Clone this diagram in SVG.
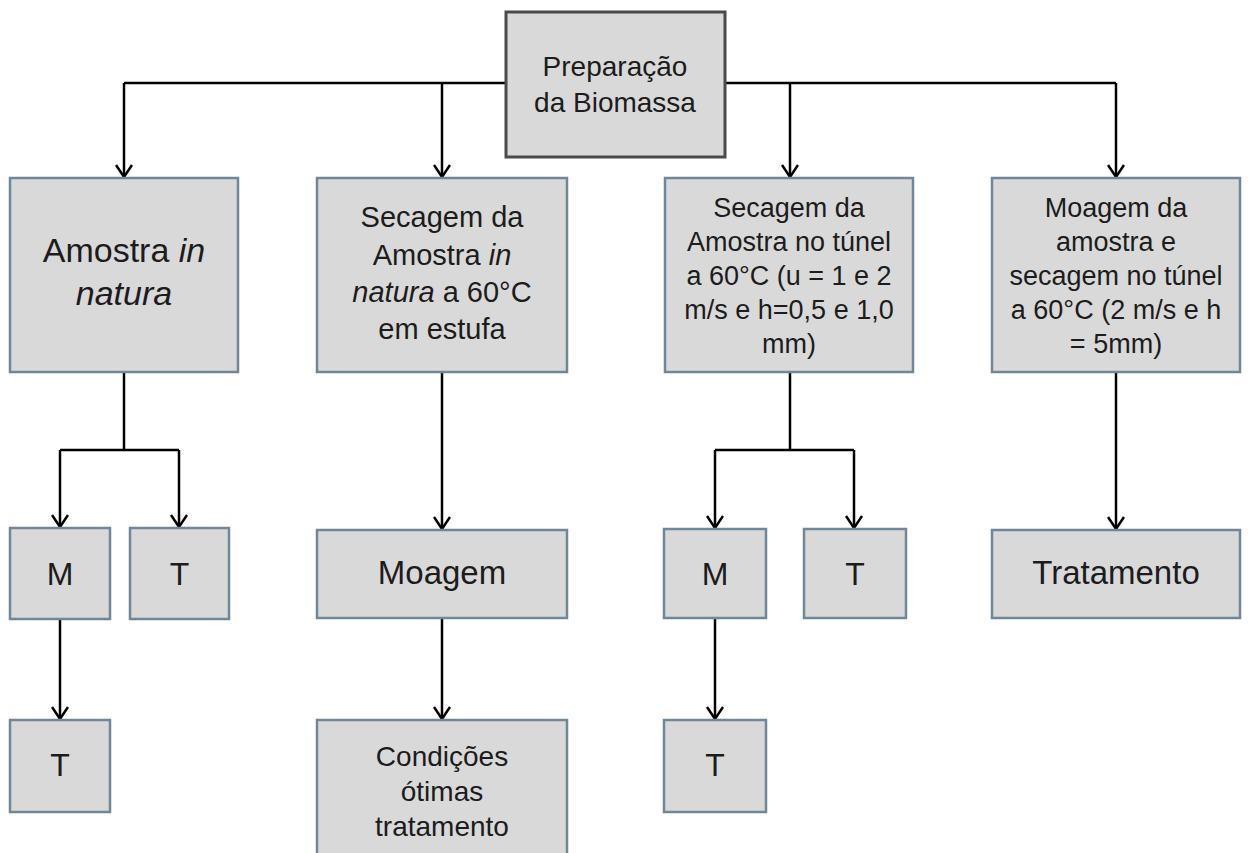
<svg xmlns="http://www.w3.org/2000/svg" width="1248" height="853" viewBox="0 0 1248 853">
<style>
.box{fill:#d9d9d9;stroke:#6f8899;stroke-width:2.5}
.top{fill:#d9d9d9;stroke:#4a4a4a;stroke-width:3}
.t{font-family:"Liberation Sans",Arial,sans-serif;fill:#1c1c1c;text-anchor:middle}
.i{font-style:italic}
.c{fill:none;stroke:#000;stroke-width:2.5}
</style>
<defs>
<marker id="ah" viewBox="0 0 14 18" refX="13" refY="9" markerWidth="14" markerHeight="18" markerUnits="userSpaceOnUse" orient="auto">
<path d="M1,1 L13,9 L1,17" fill="none" stroke="#000" stroke-width="2.5"/>
</marker>
</defs>
<rect width="1248" height="853" fill="#fff"/>
<g id="connectors">
<path class="c" d="M506,83 H124"/>
<path class="c" d="M725,83 H1116"/>
<path class="c" d="M124,83 V177" marker-end="url(#ah)"/>
<path class="c" d="M442,83 V177" marker-end="url(#ah)"/>
<path class="c" d="M790,83 V177" marker-end="url(#ah)"/>
<path class="c" d="M1116,83 V177" marker-end="url(#ah)"/>
<path class="c" d="M124,372 V450"/>
<path class="c" d="M60,450 H179"/>
<path class="c" d="M60,450 V527" marker-end="url(#ah)"/>
<path class="c" d="M179,450 V527" marker-end="url(#ah)"/>
<path class="c" d="M60,619 V719" marker-end="url(#ah)"/>
<path class="c" d="M442,372 V529" marker-end="url(#ah)"/>
<path class="c" d="M442,618 V719" marker-end="url(#ah)"/>
<path class="c" d="M790,372 V450"/>
<path class="c" d="M715,450 H854"/>
<path class="c" d="M715,450 V528" marker-end="url(#ah)"/>
<path class="c" d="M854,450 V528" marker-end="url(#ah)"/>
<path class="c" d="M715,618 V719" marker-end="url(#ah)"/>
<path class="c" d="M1116,372 V529" marker-end="url(#ah)"/>
</g>
<g id="preparacao">
<rect class="top" x="506" y="12" width="219" height="145"/>
<text class="t" font-size="28"><tspan x="615" y="76">Preparação</tspan><tspan x="615" y="112">da Biomassa</tspan></text>
</g>
<g id="amostra-in-natura">
<rect class="box" x="10" y="178" width="228" height="194"/>
<text class="t" font-size="34"><tspan x="124" y="262">Amostra <tspan class="i">in</tspan></tspan><tspan x="124" y="305" class="i">natura</tspan></text>
</g>
<g id="secagem-estufa">
<rect class="box" x="317" y="178" width="250" height="194"/>
<text class="t" font-size="29"><tspan x="442" y="227">Secagem da</tspan><tspan x="442" y="265">Amostra <tspan class="i">in</tspan></tspan><tspan x="442" y="302"><tspan class="i">natura</tspan> a 60°C</tspan><tspan x="442" y="339">em estufa</tspan></text>
</g>
<g id="secagem-tunel">
<rect class="box" x="665" y="178" width="248" height="194"/>
<text class="t" font-size="27"><tspan x="789" y="217">Secagem da</tspan><tspan x="789" y="251">Amostra no túnel</tspan><tspan x="789" y="285">a 60°C (u = 1 e 2</tspan><tspan x="789" y="319">m/s e h=0,5 e 1,0</tspan><tspan x="789" y="353">mm)</tspan></text>
</g>
<g id="moagem-secagem">
<rect class="box" x="992" y="178" width="248" height="194"/>
<text class="t" font-size="27"><tspan x="1116" y="217">Moagem da</tspan><tspan x="1116" y="251">amostra e</tspan><tspan x="1116" y="285">secagem no túnel</tspan><tspan x="1116" y="319">a 60°C (2 m/s e h</tspan><tspan x="1116" y="353">= 5mm)</tspan></text>
</g>
<g id="m1">
<rect class="box" x="10" y="528" width="100" height="91"/>
<text class="t" font-size="32" x="60" y="585">M</text>
</g>
<g id="t1">
<rect class="box" x="130" y="528" width="99" height="91"/>
<text class="t" font-size="32" x="179.5" y="585">T</text>
</g>
<g id="t1b">
<rect class="box" x="10" y="720" width="100" height="92"/>
<text class="t" font-size="32" x="60" y="776">T</text>
</g>
<g id="moagem">
<rect class="box" x="317" y="530" width="250" height="88"/>
<text class="t" font-size="33" x="442" y="584">Moagem</text>
</g>
<g id="condicoes">
<rect class="box" x="317" y="720" width="250" height="140"/>
<text class="t" font-size="28"><tspan x="442" y="766">Condições</tspan><tspan x="442" y="801">ótimas</tspan><tspan x="442" y="836">tratamento</tspan></text>
</g>
<g id="m3">
<rect class="box" x="664" y="529" width="102" height="89"/>
<text class="t" font-size="32" x="715" y="585">M</text>
</g>
<g id="t3">
<rect class="box" x="804" y="529" width="102" height="89"/>
<text class="t" font-size="32" x="855" y="585">T</text>
</g>
<g id="t3b">
<rect class="box" x="664" y="720" width="102" height="92"/>
<text class="t" font-size="32" x="715" y="776">T</text>
</g>
<g id="tratamento">
<rect class="box" x="992" y="530" width="248" height="88"/>
<text class="t" font-size="33" x="1116" y="584">Tratamento</text>
</g>
</svg>
